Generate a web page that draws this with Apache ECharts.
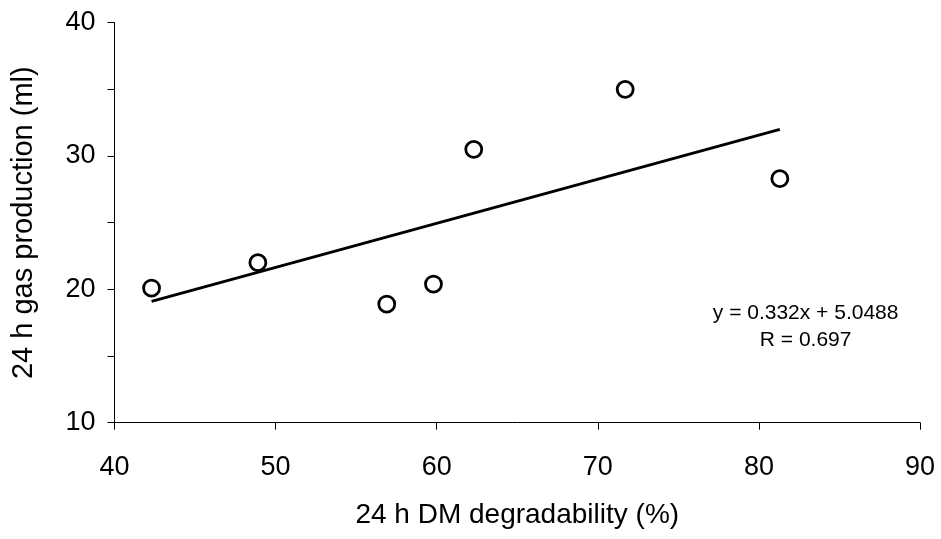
<!DOCTYPE html>
<html lang="en">
<head>
    <meta charset="UTF-8">
    <title>24 h gas production vs DM degradability</title>
    <style>
        html,body{margin:0;padding:0;background:#fff;}
        #mychart{width:941px;height:539px;}
    </style>
</head>
<body>
    <div id="mychart"></div>
    <script src="https://cdn.jsdelivr.net/npm/echarts@6/dist/echarts.min.js"></script>
    <script>
        // measured points
        var degradability=[42.3,48.9,56.9,59.8,62.3,71.7,81.3]
        var gasProduction=[20.1,22.0,18.9,20.4,30.5,35.0,28.3]
        // regression line ends
        var trendX=[42.3,81.3]
        var trendY=[19.1,32.0]
        var eqText=['y = 0.332x + 5.0488','R = 0.697']
        var eqAt=[82.9,17.2]//where the equation sits (data coords)

        var font='"Liberation Sans", Arial, sans-serif'
        var myChart=echarts.init(document.getElementById('mychart'))

        var pts=degradability.map((x,i)=>[x,gasProduction[i]])
        var trend=trendX.map((x,i)=>[x,trendY[i]])

        var option={
            animation:false,
            grid:{left:114.5,right:21,top:22.7,bottom:116.3},
            xAxis:{
                type:'value',min:40,max:90,interval:10,
                name:'24 h DM degradability (%)',
                nameLocation:'middle',nameGap:79,
                nameTextStyle:{fontFamily:font,fontSize:28,color:'#000'},
                axisLine:{show:true,lineStyle:{color:'#000',width:1}},
                axisTick:{show:true,inside:false,length:7,lineStyle:{color:'#000'}},
                axisLabel:{fontFamily:font,fontSize:27,color:'#000',margin:31},
                splitLine:{show:false}
            },
            yAxis:{
                type:'value',min:10,max:40,interval:5,
                name:'24 h gas production (ml)',
                nameLocation:'middle',nameGap:76,
                nameTextStyle:{fontFamily:font,fontSize:29,color:'#000'},
                axisLine:{show:true,lineStyle:{color:'#000',width:1}},
                axisTick:{show:true,inside:false,length:7,lineStyle:{color:'#000'}},
                axisLabel:{fontFamily:font,fontSize:27,color:'#000',margin:19,
                    formatter:(v)=>v%10==0?v:''},
                splitLine:{show:false}
            },
            series:[
                {
                    type:'line',
                    data:trend,
                    showSymbol:false,
                    lineStyle:{color:'#000',width:3},
                    z:1
                },
                {
                    type:'scatter',
                    data:pts,
                    symbol:'circle',
                    symbolSize:16,
                    itemStyle:{color:'#fff',borderColor:'#000',borderWidth:2.8,opacity:1},
                    z:2
                }
            ]
        }
        myChart.setOption(option)

        // put the equation text at its data position
        var p=myChart.convertToPixel({gridIndex:0},eqAt)
        myChart.setOption({
            graphic:[{
                type:'text',
                x:p[0],y:p[1],
                style:{
                    text:eqText.join('\n'),
                    fontFamily:font,fontSize:21,lineHeight:27,
                    fill:'#000',align:'center',verticalAlign:'middle'
                }
            }]
        })
    </script>
</body>
</html>
